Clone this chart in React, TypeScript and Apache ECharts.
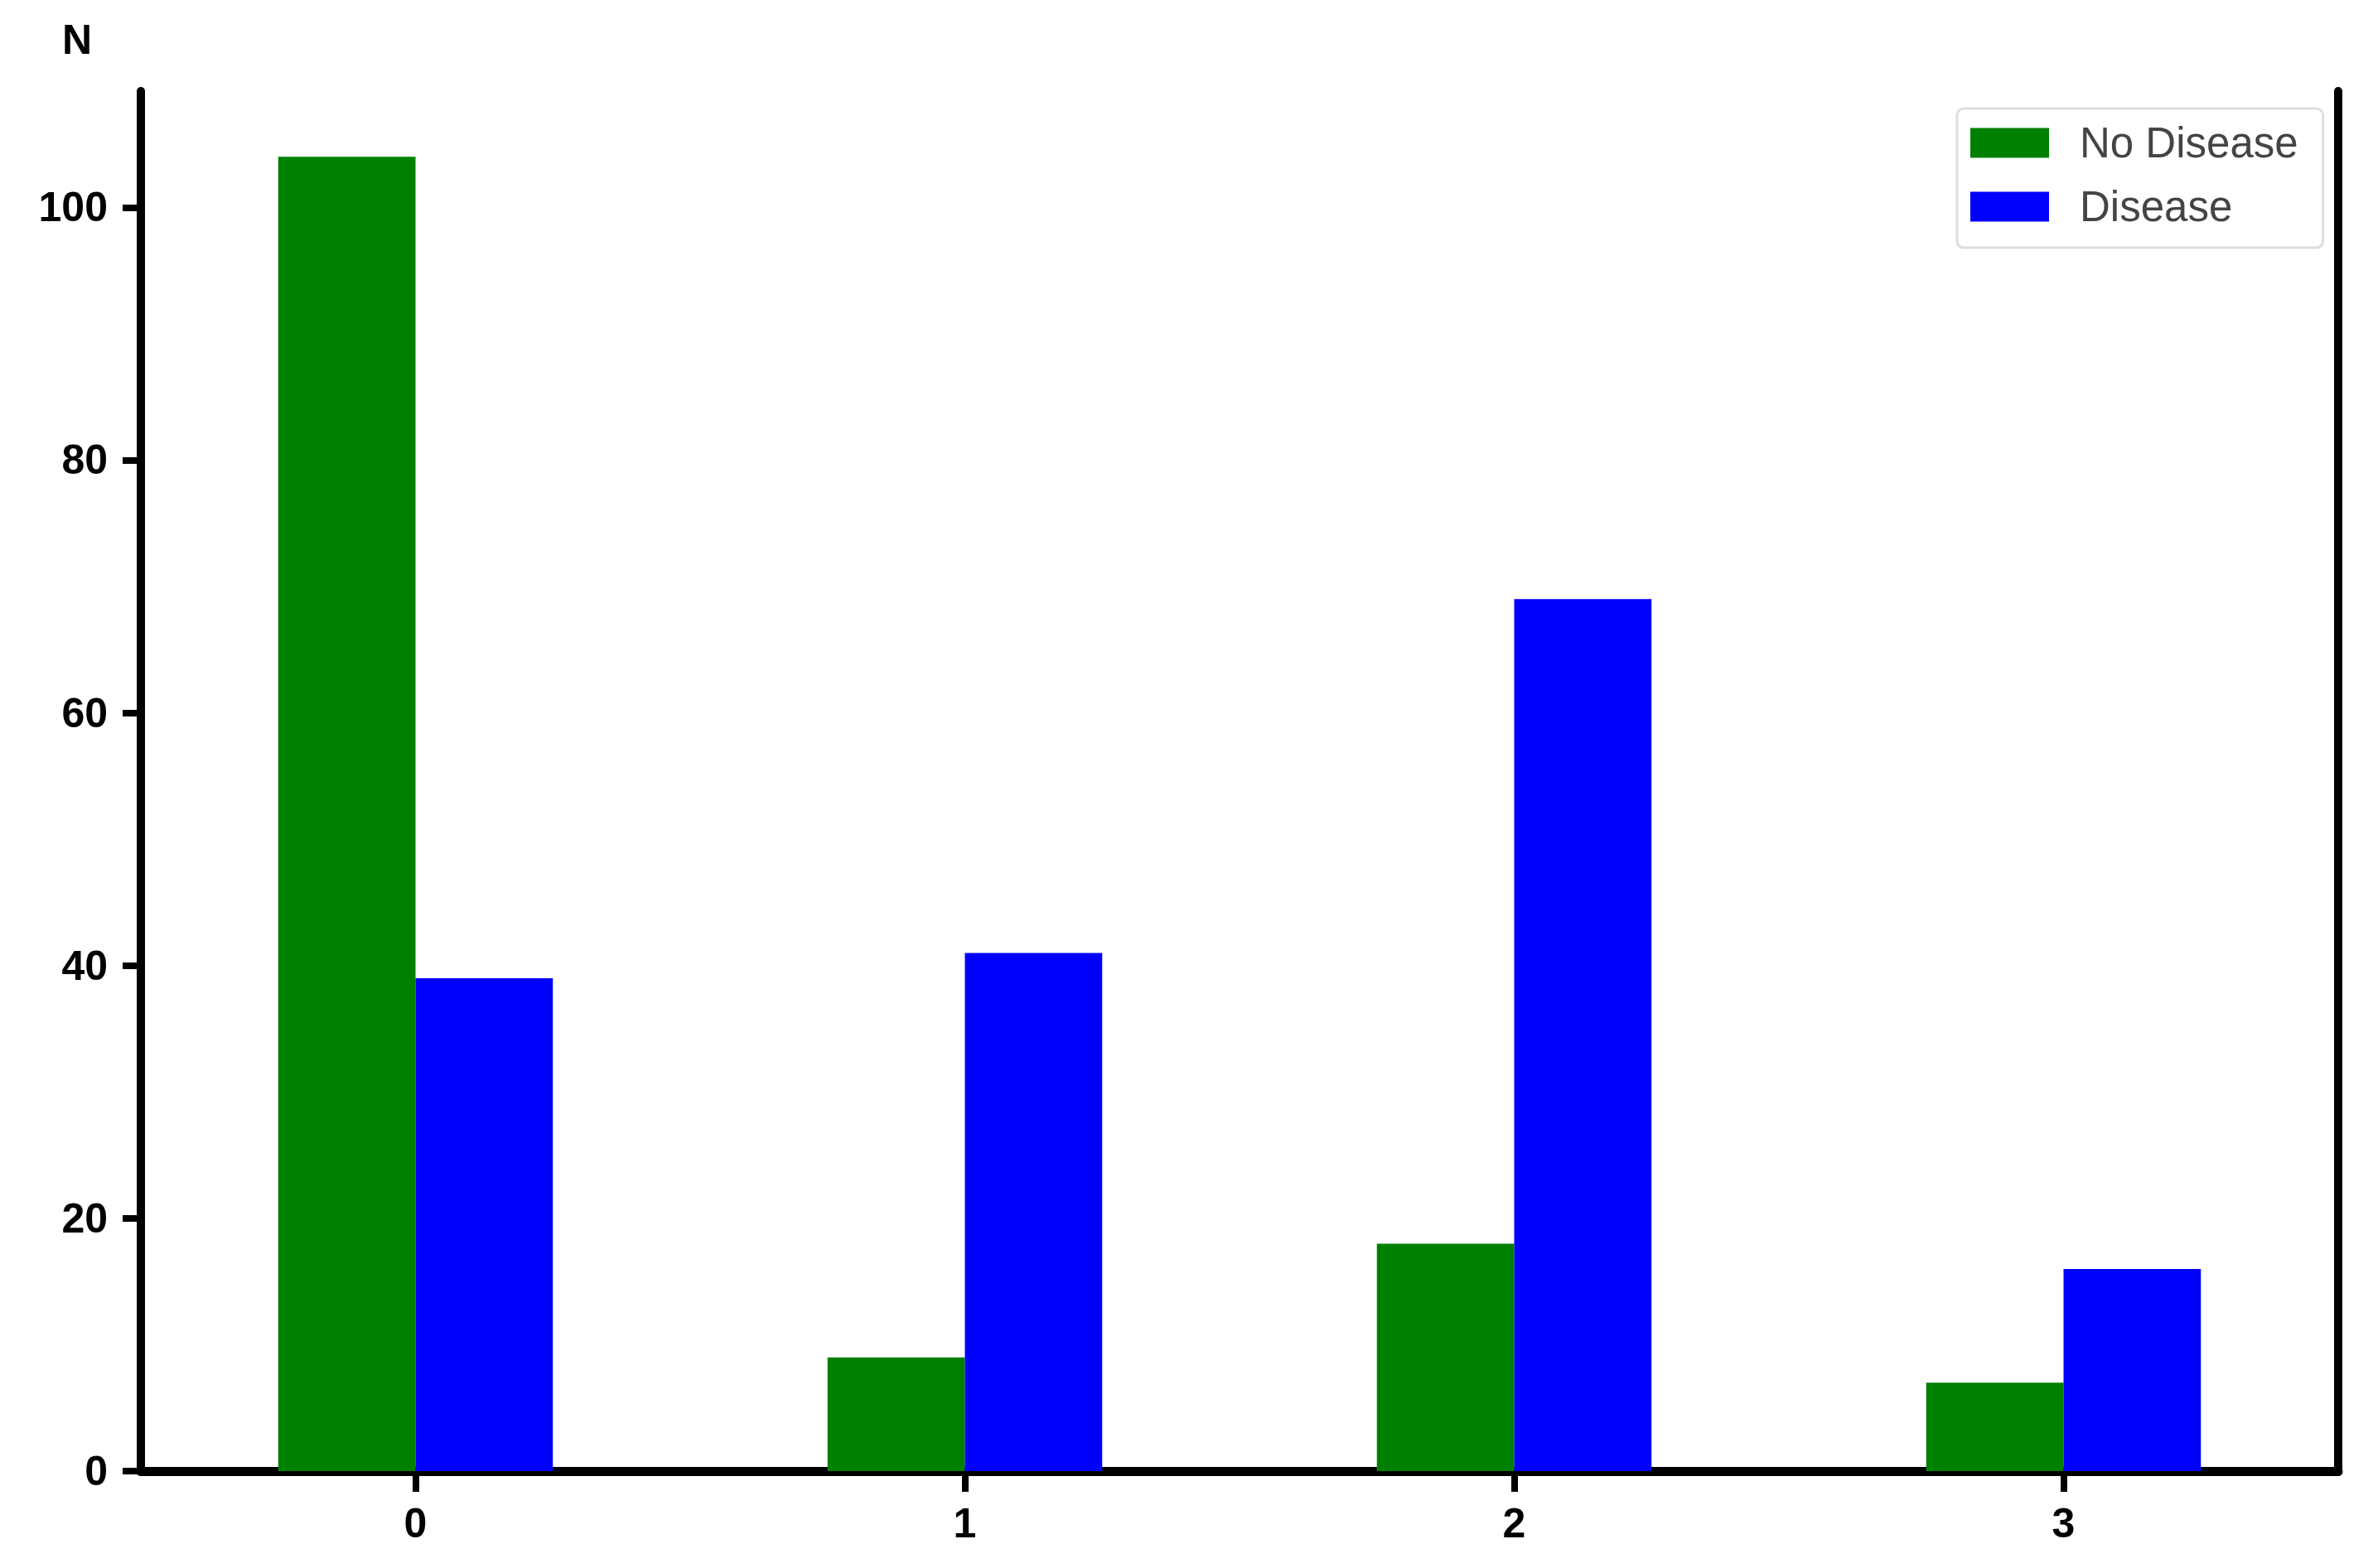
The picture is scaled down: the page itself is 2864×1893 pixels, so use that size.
import React, { useEffect, useRef } from "react";
import * as echarts from "echarts";

const categories = ["0", "1", "2", "3"];
const noDisease = [104, 9, 18, 7];
const disease = [39, 41, 69, 16];
const yTicks = [0, 20, 40, 60, 80, 100];
const yMax = 109.2;

export default function App() {
  const ref = useRef<HTMLDivElement>(null);
  useEffect(() => {
    if (!ref.current) return;
    const chart = echarts.init(ref.current, null, { renderer: "svg" });
    const font = "Liberation Sans, Arial, sans-serif";
    chart.setOption({
      animation: false,
      backgroundColor: "#ffffff",
      title: {
        text: "N",
        left: 70,
        top: 18,
        textStyle: { fontFamily: font, fontSize: 50, fontWeight: "bold", color: "#000" },
      },
      legend: {
        left: 2362,
        top: 131,
        orient: "vertical",
        data: ["No Disease", "Disease"],
        icon: "rect",
        itemWidth: 95,
        itemHeight: 36,
        itemGap: 26,
        padding: [16, 30, 24, 16],
        borderColor: "#dddddd",
        borderWidth: 3,
        borderRadius: 8,
        textStyle: {
          fontFamily: font,
          fontSize: 51,
          color: "#444",
          padding: [0, 0, 0, 32],
        },
      },
      grid: { left: 170, right: 42, top: 110, bottom: 117, containLabel: false },
      xAxis: {
        type: "category",
        data: categories,
        axisLine: { show: true, lineStyle: { color: "#000", width: 11 } },
        axisTick: { show: true, alignWithLabel: true, length: 25, lineStyle: { color: "#000", width: 8 } },
        axisLabel: { margin: 38, fontFamily: font, fontSize: 50, fontWeight: "bold", color: "#000" },
        splitLine: { show: false },
      },
      yAxis: [
        {
          type: "value",
          min: 0,
          max: yMax,
          interval: 20,
          axisLine: { show: true, lineStyle: { color: "#000", width: 10 } },
          axisTick: {
            show: true,
            length: 22,
            lineStyle: { color: "#000", width: 8 },
            customValues: yTicks,
          },
          axisLabel: {
            margin: 40,
            fontFamily: font,
            fontSize: 50,
            fontWeight: "bold",
            color: "#000",
            customValues: yTicks,
          },
          splitLine: { show: false },
        },
        {
          type: "value",
          position: "right",
          min: 0,
          max: yMax,
          interval: 20,
          axisLine: { show: true, lineStyle: { color: "#000", width: 10 } },
          axisTick: { show: false },
          axisLabel: { show: false },
          splitLine: { show: false },
        },
      ],
      series: [
        {
          name: "No Disease",
          type: "bar",
          data: noDisease,
          barGap: "0%",
          barCategoryGap: "50%",
          itemStyle: { color: "#008000" },
        },
        {
          name: "Disease",
          type: "bar",
          data: disease,
          barGap: "0%",
          barCategoryGap: "50%",
          itemStyle: { color: "#0000ff" },
        },
      ],
    });
    return () => chart.dispose();
  }, []);
  return (
    <div
      ref={ref}
      style={{ position: "absolute", left: 0, top: 0, width: 2864, height: 1893, background: "#fff" }}
    />
  );
}
